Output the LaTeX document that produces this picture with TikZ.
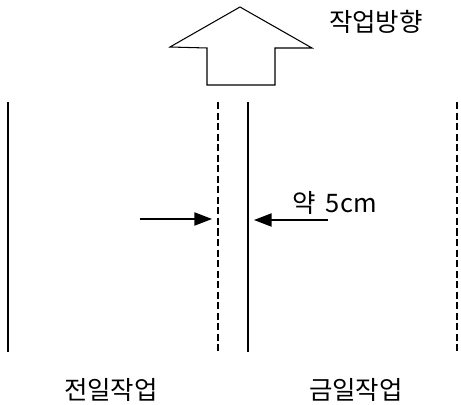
\documentclass[tikz,border=0pt]{standalone}
\usepackage{fontspec}
\setmainfont{Noto Sans CJK KR}
\usepackage{tikz}
\usetikzlibrary{arrows.meta, positioning}

\begin{document}
\begin{tikzpicture}[x=0.02cm, y=-0.02cm,
    lbl/.style={inner sep=0pt, font=\fontsize{14.5}{17}\selectfont},
    solidline/.style={line width=0.7pt},
    dashline/.style={line width=0.7pt, dash pattern=on 4pt off 2pt},
    push/.style={line width=0.7pt, -{Triangle[length=10pt, width=7.5pt]}}]
  \useasboundingbox (0,0) rectangle (461,405);
  % work direction
  \draw[line width=0.6pt] (240,7) -- (312,48) -- (275,48) -- (275,85)
        -- (207,85) -- (207,48) -- (170,47) -- cycle;
  \node[lbl] (dir) at (376,22) {작업방향};
  % seams
  \foreach \name/\x in {prevL/8, curL/248} {
    \coordinate (\name top) at (\x,102);
    \coordinate (\name bot) at (\x,352);
    \draw[solidline] (\name top) -- (\name bot);
  }
  \foreach \name/\x in {prevR/218, curR/457} {
    \coordinate (\name top) at (\x,102);
    \coordinate (\name bot) at (\x,352);
    \draw[dashline] (\name top) -- (\name bot);
  }
  % overlap
  \coordinate (inA) at (140,219);
  \coordinate (tipA) at (212,219);
  \coordinate (inB) at (328,220);
  \coordinate (tipB) at (254,220);
  \draw[push] (inA) -- (tipA);
  \draw[push] (inB) -- (tipB);
  \node[lbl, anchor=base west] (gap) at (292,213) {약\hspace{0.4em}5cm};
  % labels
  \node[lbl] (prev) at (111,390) {전일작업};
  \node[lbl] (cur) at (356,390) {금일작업};
\end{tikzpicture}
\end{document}
